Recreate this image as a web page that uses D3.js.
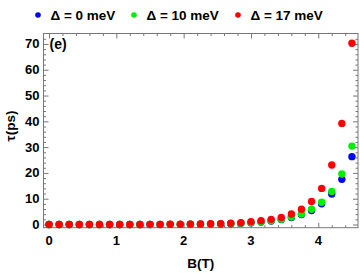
<!DOCTYPE html>
<html>
<head>
<meta charset="utf-8">
<script src="https://cdn.jsdelivr.net/npm/d3@7"></script>
<style>
  body { margin: 0; background: #fff; }
  text { font-family: "Liberation Sans", Arial, sans-serif; font-weight: bold; }
</style>
</head>
<body>
<div id="chart"></div>
<script>
var B = [0, 0.15, 0.3, 0.45, 0.6, 0.75, 0.9, 1.05, 1.2, 1.35, 1.5, 1.65, 1.8, 1.95, 2.1, 2.25,
         2.4, 2.55, 2.7, 2.85, 3.0, 3.15, 3.3, 3.45, 3.6, 3.75, 3.9, 4.05, 4.2, 4.35, 4.5];

var tau_0 = [0, 0, 0, 0, 0, 0, 0, 0, 0, 0, 0, 0, 0.05, 0.05, 0.1, 0.1,
             0.15, 0.2, 0.3, 0.45, 0.65, 0.95, 1.35, 1.9, 2.7, 3.9, 5.4, 8.0, 11.8, 17.5, 26.3];
var tau_10 = [0, 0, 0, 0, 0, 0, 0, 0, 0, 0, 0, 0.05, 0.05, 0.05, 0.1, 0.1,
              0.15, 0.25, 0.35, 0.5, 0.7, 1.0, 1.45, 2.0, 2.9, 4.1, 5.9, 8.6, 12.8, 19.6, 30.4];
var tau_17 = [0, 0, 0, 0, 0, 0, 0, 0, 0, 0, 0.05, 0.05, 0.1, 0.1, 0.15, 0.2,
              0.3, 0.35, 0.5, 0.7, 1.1, 1.5, 2.0, 2.7, 4.1, 5.9, 8.9, 14.0, 23.1, 39.2, 70.3];

var series_names = ["\u0394 = 0 meV", "\u0394 = 10 meV", "\u0394 = 17 meV"];
var series_colors = ["#0000ff", "#00ee00", "#ff0000"];

var x_ticks = [0, 1, 2, 3, 4];
var y_ticks = [0, 10, 20, 30, 40, 50, 60, 70];

function draw_chart(target, wdth, hght){
  var pl = 43.5, pr = 358, pt = 33.5, pb = 227.7;

  var svg = d3.select(target)
    .append("svg")
      .attr("width", wdth)
      .attr("height", hght);

  var x = d3.scaleLinear()
    .domain([-0.082, 4.59])
    .range([pl, pr]);

  var y = d3.scaleLinear()
    .domain([-1.24, 74.06])
    .range([pb, pt]);

  var frameColor = "#777";

  // minor ticks
  var x_minor = d3.range(0, 4.59, 0.2).filter(function(v){ return Math.abs(v - Math.round(v)) > 0.01 });
  var y_minor = d3.range(0, 74, 2).filter(function(v){ return v % 10 != 0 });

  function tickAxis(axis, ticks, len){
    return axis.tickValues(ticks).tickSize(len).tickFormat("");
  }

  // inward ticks on all four sides
  var gb = svg.append("g").attr("transform", "translate(0," + pb + ")");
  gb.call(tickAxis(d3.axisTop(x), x_ticks, 5));
  gb.append("g").call(tickAxis(d3.axisTop(x), x_minor, 2.5));

  var gt = svg.append("g").attr("transform", "translate(0," + pt + ")");
  gt.call(tickAxis(d3.axisBottom(x), x_ticks, 5));
  gt.append("g").call(tickAxis(d3.axisBottom(x), x_minor, 2.5));

  var gl = svg.append("g").attr("transform", "translate(" + pl + ",0)");
  gl.call(tickAxis(d3.axisRight(y), y_ticks, 5));
  gl.append("g").call(tickAxis(d3.axisRight(y), y_minor, 2.5));

  var gr = svg.append("g").attr("transform", "translate(" + pr + ",0)");
  gr.call(tickAxis(d3.axisLeft(y), y_ticks, 5));
  gr.append("g").call(tickAxis(d3.axisLeft(y), y_minor, 2.5));

  svg.selectAll(".domain").remove();
  svg.selectAll(".tick line").attr("stroke", frameColor).attr("stroke-width", 1);

  svg.append("rect")
    .attr("x", pl)
    .attr("y", pt)
    .attr("width", pr - pl)
    .attr("height", pb - pt)
    .attr("fill", "none")
    .attr("stroke", frameColor)
    .attr("stroke-width", 1);

  // tick labels
  svg.selectAll(".xlab")
    .data(x_ticks)
    .enter()
    .append("text")
      .attr("x", function(d){ return x(d) })
      .attr("y", pb + 17)
      .attr("text-anchor", "middle")
      .attr("font-size", 13)
      .text(function(d){ return d });

  svg.selectAll(".ylab")
    .data(y_ticks)
    .enter()
    .append("text")
      .attr("x", pl - 4)
      .attr("y", function(d){ return y(d) + 4.5 })
      .attr("text-anchor", "end")
      .attr("font-size", 13)
      .text(function(d){ return d });

  // axis titles
  svg.append("text")
    .attr("x", (pl + pr) / 2)
    .attr("y", 268)
    .attr("text-anchor", "middle")
    .attr("font-size", 13.5)
    .text("B(T)");

  svg.append("text")
    .attr("transform", "translate(15,126) rotate(-90)")
    .attr("text-anchor", "middle")
    .attr("font-size", 13.5)
    .text("\u03c4(ps)");

  svg.append("text")
    .attr("x", pl + 6)
    .attr("y", y(70) + 5)
    .attr("font-size", 14)
    .text("(e)");

  // points, blue under green under red
  var all_series = [tau_0, tau_10, tau_17];
  all_series.forEach(function(vals, k){
    svg.append("g")
      .selectAll("circle")
      .data(vals)
      .enter()
      .append("circle")
        .attr("cx", function(d, i){ return x(B[i]) })
        .attr("cy", function(d){ return y(d) })
        .attr("r", 3.7)
        .attr("fill", series_colors[k]);
  });

  // legend
  var legend_x = [38, 134, 238];
  var lg = svg.selectAll(".legend")
    .data(series_names)
    .enter()
    .append("g")
      .attr("transform", function(d, i){ return "translate(" + legend_x[i] + ",15)" });

  lg.append("circle")
    .attr("r", 2.8)
    .attr("fill", function(d, i){ return series_colors[i] });

  lg.append("text")
    .attr("x", 12.5)
    .attr("y", 4.7)
    .attr("font-size", 13.5)
    .text(function(d){ return d });
}

draw_chart("#chart", 360, 273);
</script>
</body>
</html>
